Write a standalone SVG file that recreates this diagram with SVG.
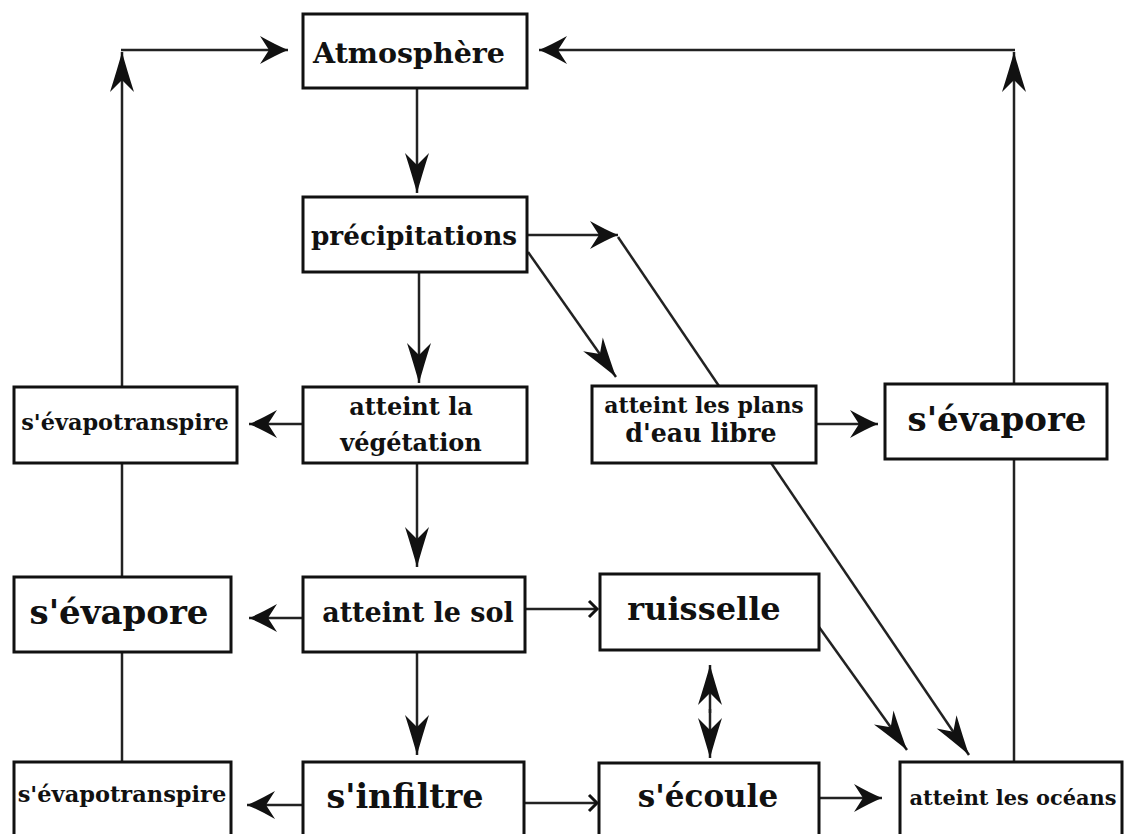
<svg xmlns="http://www.w3.org/2000/svg" width="1130" height="834" viewBox="0 0 1130 834">
<style>
.box{fill:#fff;stroke:#111;stroke-width:3}
.t{font-family:"DejaVu Serif","Liberation Serif",serif;font-weight:bold;fill:#111;text-anchor:middle}
.c line{stroke:#222;stroke-width:2.5;fill:none}
.big{marker-end:url(#big)}
.mid{marker-end:url(#mid)}
.sm{marker-end:url(#sm)}
</style>
<defs>
<marker id="big" markerUnits="userSpaceOnUse" viewBox="-42 -14 44 28" markerWidth="44" markerHeight="28" refX="0" refY="0" orient="auto" overflow="visible">
<path d="M0,0 Q-18,-5 -40,-12 L-28,0 L-40,12 Q-18,5 0,0 Z" fill="#111"/>
</marker>
<marker id="mid" markerUnits="userSpaceOnUse" viewBox="-30 -16 32 32" markerWidth="32" markerHeight="32" refX="0" refY="0" orient="auto" overflow="visible">
<path d="M0,0 Q-12,-5 -28,-14 L-19,0 L-28,14 Q-12,5 0,0 Z" fill="#111"/>
</marker>
<marker id="sm" markerUnits="userSpaceOnUse" viewBox="-12 -10 14 20" markerWidth="14" markerHeight="20" refX="0" refY="0" orient="auto" overflow="visible">
<path d="M-8,-8 L0,0 L-8,8" fill="none" stroke="#111" stroke-width="3"/>
</marker>
</defs>
<rect width="1130" height="834" fill="#fff"/>
<g class="c" id="connectors">
<line x1="122" y1="387" x2="122" y2="52" class="big"/>
<line x1="121" y1="50" x2="288" y2="50" class="mid"/>
<line x1="1014" y1="384" x2="1014" y2="52" class="big"/>
<line x1="1015" y1="50" x2="539" y2="50" class="mid"/>
<line x1="417" y1="88" x2="417" y2="193" class="big"/>
<line x1="419" y1="272" x2="419" y2="383" class="big"/>
<line x1="527" y1="235" x2="618" y2="235" class="mid"/>
<line x1="528" y1="252" x2="616" y2="377" class="big"/>
<line x1="618" y1="237" x2="969" y2="755" class="big"/>
<line x1="303" y1="424" x2="249" y2="424" class="mid"/>
<line x1="122" y1="463" x2="122" y2="577"/>
<line x1="417" y1="463" x2="417" y2="567" class="big"/>
<line x1="816" y1="424" x2="878" y2="424" class="mid"/>
<line x1="1014" y1="459" x2="1014" y2="762"/>
<line x1="303" y1="618" x2="249" y2="618" class="mid"/>
<line x1="525" y1="609" x2="597" y2="609" class="sm"/>
<line x1="819" y1="627" x2="907" y2="750" class="big"/>
<line x1="417" y1="652" x2="417" y2="755" class="big"/>
<line x1="122" y1="652" x2="122" y2="762"/>
<line x1="710" y1="713" x2="710" y2="665" class="big"/>
<line x1="710" y1="709" x2="710" y2="758" class="big"/>
<line x1="303" y1="805" x2="247" y2="805" class="mid"/>
<line x1="524" y1="803" x2="597" y2="803" class="sm"/>
<line x1="819" y1="798" x2="882" y2="798" class="mid"/>
</g>
<g id="atmosphere"><rect class="box" x="303" y="14" width="224" height="74"/><text class="t" x="409" y="63" font-size="28.5">Atmosphère</text></g>
<g id="precipitations"><rect class="box" x="303" y="197" width="224" height="75"/><text class="t" x="414" y="245" font-size="26.3">précipitations</text></g>
<g id="evapotranspire1"><rect class="box" x="14" y="387" width="223" height="76"/><text class="t" x="125" y="430" font-size="22.4">s'évapotranspire</text></g>
<g id="vegetation"><rect class="box" x="303" y="387" width="224" height="76"/><text class="t" x="411" y="415" font-size="24">atteint la</text><text class="t" x="411" y="451" font-size="24">végétation</text></g>
<g id="plans"><rect class="box" x="592" y="386" width="224" height="77"/><text class="t" x="704" y="413" font-size="22">atteint les plans</text><text class="t" x="701" y="442" font-size="25.3">d'eau libre</text></g>
<g id="evapore_right"><rect class="box" x="885" y="384" width="222" height="75"/><text class="t" x="997" y="431" font-size="34">s'évapore</text></g>
<g id="evapore_left"><rect class="box" x="14" y="577" width="217" height="75"/><text class="t" x="119" y="624" font-size="34">s'évapore</text></g>
<g id="sol"><rect class="box" x="303" y="577" width="222" height="75"/><text class="t" x="418" y="622" font-size="27">atteint le sol</text></g>
<g id="ruisselle"><rect class="box" x="600" y="574" width="219" height="76"/><text class="t" x="704" y="620" font-size="32">ruisselle</text></g>
<g id="evapotranspire2"><rect class="box" x="14" y="762" width="217" height="80"/><text class="t" x="122" y="802" font-size="22.5">s'évapotranspire</text></g>
<g id="infiltre"><rect class="box" x="303" y="762" width="221" height="80"/><text class="t" x="405" y="808" font-size="33.4">s'infiltre</text></g>
<g id="ecoule"><rect class="box" x="599" y="763" width="220" height="80"/><text class="t" x="708" y="807" font-size="31">s'écoule</text></g>
<g id="oceans"><rect class="box" x="900" y="762" width="222" height="80"/><text class="t" x="1013" y="805" font-size="20.9">atteint les océans</text></g>
</svg>
